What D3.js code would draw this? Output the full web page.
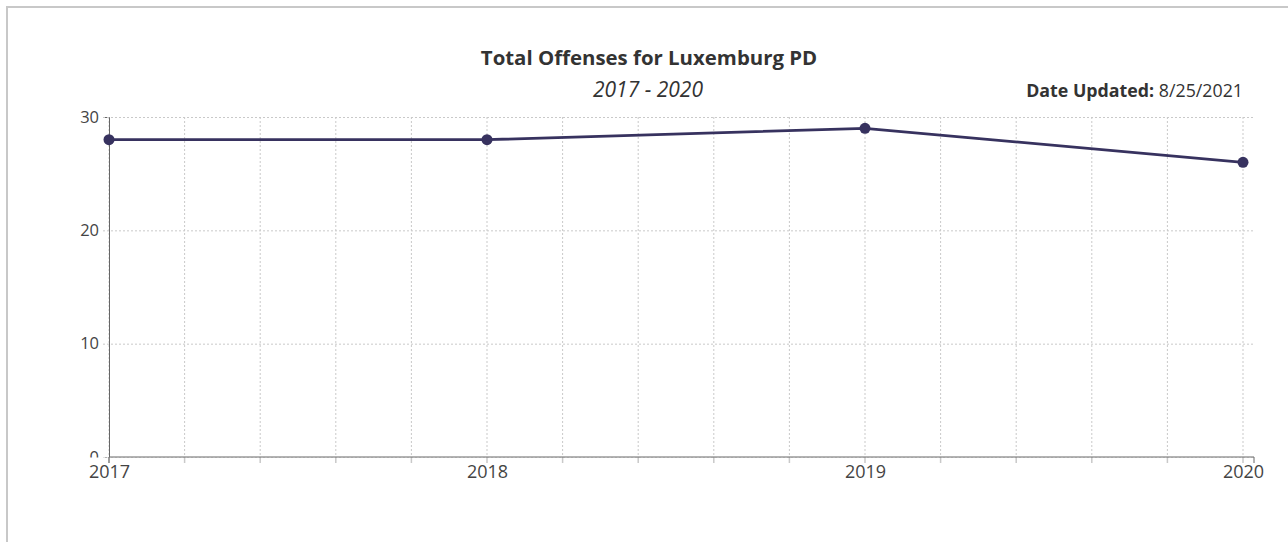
<!DOCTYPE html>
<html>
<head>
<meta charset="utf-8">
<script src="https://cdn.jsdelivr.net/npm/d3@7"></script>
<style>
  html, body { margin: 0; padding: 0; background: #fff; }
  svg { display: block; }
  text { font-family: "Open Sans", "Noto Sans", sans-serif; }
</style>
</head>
<body>
<script>
// ---- data ----
const years = [2017, 2018, 2019, 2020];
const offenses = [28, 28, 29, 26];
const yTickValues = [0, 10, 20, 30];
const xLabelValues = [2017, 2018, 2019, 2020];
const titleText = "Total Offenses for Luxemburg PD";
const subtitleText = "2017 - 2020";
const updatedLabel = "Date Updated:";
const updatedValue = "8/25/2021";

// ---- layout ----
const W = 1288, H = 542;
const margin = { left: 109, top: 117 };
const innerW = 1145, innerH = 340;
const xPad = 11;
const lineColor = "#37325f";

const svg = d3.select("body").append("svg").attr("width", W).attr("height", H);

// frame
svg.append("rect").attr("x", 7).attr("y", 7).attr("width", W + 20).attr("height", H + 20)
  .attr("fill", "none").attr("stroke", "#c8c8c8").attr("stroke-width", 2);

// titles
svg.append("text").attr("x", 649).attr("y", 65).attr("text-anchor", "middle")
  .attr("font-size", 20.4).attr("font-weight", "bold").attr("fill", "#333").text(titleText);
svg.append("text").attr("x", 648).attr("y", 97).attr("text-anchor", "middle")
  .attr("font-size", 21).attr("font-style", "italic").attr("fill", "#333").text(subtitleText);
const upd = svg.append("text").attr("x", 1243).attr("y", 97).attr("text-anchor", "end")
  .attr("font-size", 17.8).attr("fill", "#333");
upd.append("tspan").attr("font-weight", "bold").text(updatedLabel + " ");
upd.append("tspan").text(updatedValue);

const g = svg.append("g").attr("transform", `translate(${margin.left},${margin.top})`);

const x = d3.scaleLinear().domain([years[0], years[years.length - 1]]).range([0, innerW - xPad]);
const y = d3.scaleLinear().domain([0, d3.max(yTickValues)]).range([innerH, 0]);

// vertical grid (5 subdivisions per year)
const gridX = d3.range(0, (years.length - 1) * 5 + 1).map(i => years[0] + i / 5);
g.append("g").selectAll("line").data(gridX).join("line")
  .attr("x1", d => x(d)).attr("x2", d => x(d))
  .attr("y1", 0).attr("y2", innerH + 6)
  .attr("stroke", "#c9c9c9").attr("stroke-width", 1).attr("stroke-dasharray", "2,2");

// y axis with grid
const yAxis = g.append("g").call(
  d3.axisLeft(y).tickValues(yTickValues).tickSizeInner(-innerW).tickSizeOuter(6).tickPadding(10)
);
yAxis.selectAll(".tick line").attr("x1", -6).attr("stroke", "#c9c9c9").attr("stroke-dasharray", "2,2");
yAxis.select(".domain").attr("stroke", "#666");
yAxis.selectAll(".tick text").attr("font-size", 16.5).attr("fill", "#444")
  .attr("font-family", '"Open Sans", sans-serif');

// white band below x axis (clips "0" label as in reference)
g.append("rect").attr("x", -60).attr("y", innerH + 0.5).attr("width", innerW + 80).attr("height", 40)
  .attr("fill", "#fff");
// grid tick stubs below axis
g.append("g").selectAll("line").data(gridX).join("line")
  .attr("x1", d => x(d)).attr("x2", d => x(d))
  .attr("y1", innerH).attr("y2", innerH + 6)
  .attr("stroke", "#c9c9c9").attr("stroke-width", 1.5);

// x axis
const xAxis = g.append("g").attr("transform", `translate(0,${innerH})`).call(
  d3.axisBottom(x).tickValues(xLabelValues).tickFormat(d3.format("d")).tickSize(0).tickPadding(8)
);
xAxis.select(".domain").attr("d", `M0,6V0H${innerW}V6`).attr("stroke", "#666");
xAxis.selectAll(".tick text").attr("font-size", 18).attr("fill", "#444")
  .attr("font-family", '"Open Sans", sans-serif');

// line
const line = d3.line().x((d, i) => x(years[i])).y(d => y(d));
g.append("path").datum(offenses).attr("d", line)
  .attr("fill", "none").attr("stroke", lineColor).attr("stroke-width", 2.8);
g.append("g").selectAll("circle").data(offenses).join("circle")
  .attr("cx", (d, i) => x(years[i])).attr("cy", d => y(d)).attr("r", 5.5)
  .attr("fill", lineColor);
</script>
</body>
</html>
